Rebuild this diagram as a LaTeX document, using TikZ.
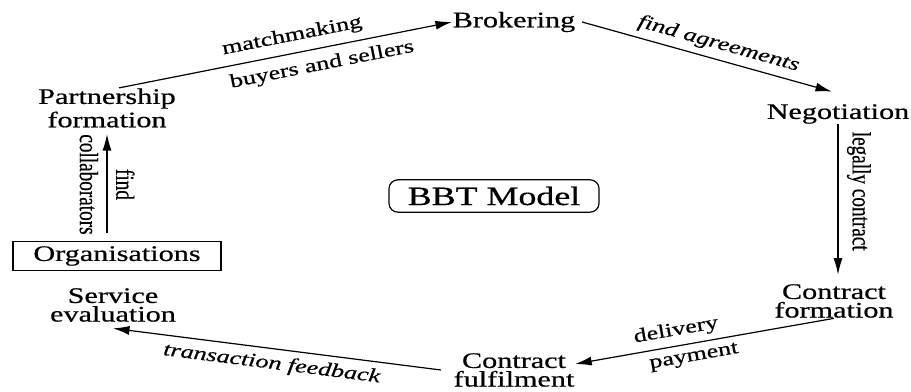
\documentclass[tikz,border=0pt]{standalone}
\usepackage{fontspec}
\setmainfont{Liberation Serif}[FakeBold=0.5]
\usetikzlibrary{arrows.meta, positioning}

\newcommand\stagefont{\fontsize{7.4}{6.2}\selectfont}
\newcommand\lblfont{\fontsize{6.4}{7}\selectfont}
\newcommand\bbtfont{\fontsize{8.8}{9}\selectfont}

\begin{document}
\begin{tikzpicture}[x=0.3333pt, y=-0.3333pt,
  stage/.style={align=center, inner sep=0pt, font=\stagefont, xscale=\sx},
  lbl/.style={font=\lblfont, inner sep=2pt, sloped, xscale=\sx},
  lbli/.style={lbl, font=\lblfont\itshape},
  vlbl/.style={font=\lblfont, inner sep=2pt, rotate=-90, yscale=\sx},
  flow/.style={-{Latex[length=5.5pt,width=3pt]}}]
% Define constants
\def\sx{1.36}

\useasboundingbox (0,0) rectangle (911,392);

% Stages of the cycle
\node[stage] (brok) at (514,22) {Brokering};
\node[stage] (nego) at (838,114) {Negotiation};
\node[stage] (cform) at (834,301) {Contract\\formation};
\node[stage] (cfulf) at (514,370) {Contract\\fulfilment};
\node[stage] (serv) at (113,305) {Service\\evaluation};
\node[stage, draw, inner xsep=5pt, inner ysep=1.6pt] (org) at (117,256) {Organisations};
\node[stage] (part) at (107,108) {Partnership\\formation};

% Model name in the middle
\node[stage, draw, rounded corners=3pt, font=\bbtfont, inner xsep=4.6pt, inner ysep=2.3pt] (bbt) at (494,196) {BBT Model};

% Draw the cycle
\draw[flow] ([xshift=4pt]part.north) -- node[lbl, above, inner sep=2.6pt, pos=0.53] {matchmaking}
  node[lbl, below, inner sep=2.6pt, pos=0.6] {buyers and sellers} (brok.west);
\draw[flow] ([xshift=2pt]brok.east) -- node[lbli, above, pos=0.53] {find agreements}
  ([xshift=-2pt, yshift=4pt]nego.north);
\draw[flow, shorten >=3pt] (nego.south) -- node[vlbl, anchor=south, pos=0.42] {legally contract}
  (nego.south |- cform.north);
\draw[flow] (cform.south) -- node[lbl, above, pos=0.6] {delivery}
  node[lbl, below, pos=0.55] {payment} ([yshift=2pt]cfulf.east);
\draw[flow] ([xshift=-4pt]cfulf.west) -- node[lbli, below, pos=0.51] {transaction feedback}
  ([yshift=-2pt]serv.south);
\draw[flow, shorten <=2.7pt, shorten >=2pt] (org.north -| part.south) -- node[vlbl, anchor=south] {find}
  node[vlbl, anchor=north] {collaborators} (part.south);

\end{tikzpicture}
\end{document}
